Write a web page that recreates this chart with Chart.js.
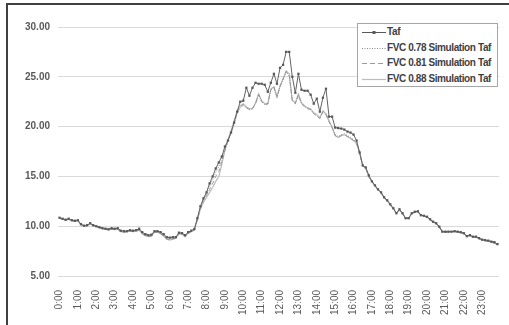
<!DOCTYPE html>
<html>
<head>
<meta charset="utf-8">
<script src="https://cdn.jsdelivr.net/npm/chart.js@4.4.0/dist/chart.umd.min.js"></script>
<style>
  html, body { margin: 0; padding: 0; background: #fff; overflow: hidden; }
  #wrap { position: relative; width: 509px; height: 325px; overflow: hidden; }
  #frame { position: absolute; left: 6px; top: 3px; width: 600px; height: 400px;
           border-left: 2px solid #404040; border-top: 2px solid #404040; }
  #grafico { position: absolute; left: 0; top: 0; }
  #leyenda { position: absolute; left: 357px; top: 23px; width: 139px; height: 62px;
             border: 1px solid #a6a6a6; background: #fff;
             font: bold 10px "Liberation Sans", Arial, sans-serif; color: #404040; }
  .fila { position: absolute; left: 0; height: 14px; line-height: 14px; white-space: nowrap; letter-spacing: -0.4px; }
  .fila svg { position: absolute; left: 4px; top: 0; }
  .fila span { position: absolute; left: 29px; top: 0; }
</style>
</head>
<body>
<div id="wrap">
  <div id="frame"></div>
  <canvas id="grafico" width="509" height="325"></canvas>
  <div id="leyenda">
    <div class="fila" style="top:1px"><svg width="24" height="14"><line x1="0" y1="7.5" x2="24" y2="7.5" stroke="#595959" stroke-width="1"/><rect x="10.5" y="6" width="3" height="3" fill="#595959"/></svg><span>Taf</span></div>
    <div class="fila" style="top:17px"><svg width="24" height="14"><line x1="0" y1="7.5" x2="24" y2="7.5" stroke="#8c8c8c" stroke-width="1" stroke-dasharray="1,1.5"/></svg><span>FVC 0.78 Simulation Taf</span></div>
    <div class="fila" style="top:32px"><svg width="24" height="14"><line x1="0" y1="7.5" x2="24" y2="7.5" stroke="#9a9a9a" stroke-width="1" stroke-dasharray="5,3"/></svg><span>FVC 0.81 Simulation Taf</span></div>
    <div class="fila" style="top:48px"><svg width="24" height="14"><line x1="0" y1="7.5" x2="24" y2="7.5" stroke="#bdbdbd" stroke-width="1.2"/></svg><span>FVC 0.88 Simulation Taf</span></div>
  </div>
</div>
<script>
// horas cada 10 minutos
const horas = [];
for (let h = 0; h < 24; h++) {
    for (let m = 0; m < 60; m += 10) {
        horas.push(h + ":" + (m < 10 ? "0" + m : m));
    }
}

const taf = [
    10.85, 10.75, 10.65, 10.75, 10.6, 10.55, 10.6, 10.2, 10.05, 10.1, 10.3, 10.1,
    10.0, 9.9, 9.8, 9.75, 9.7, 9.8, 9.75, 9.8, 9.55, 9.5, 9.5, 9.6,
    9.55, 9.6, 9.75, 9.4, 9.2, 9.1, 9.15, 9.5, 9.5, 9.4, 9.2, 8.9,
    8.85, 8.9, 8.9, 9.35, 9.3, 9.1, 9.4, 9.55, 9.7, 10.8, 12.0, 12.8,
    13.4, 14.3, 15.0, 15.8, 16.4, 17.0, 18.0, 18.6, 19.4, 20.4, 21.5, 22.5,
    22.6, 23.9, 23.1, 23.9, 24.4, 24.3, 24.3, 24.2, 23.5, 24.4, 25.3, 24.3,
    25.9, 26.2, 27.5, 27.5, 25.0, 23.4, 25.3, 23.7, 23.6, 23.6, 23.2, 22.3,
    22.8, 21.5, 22.9, 23.8, 21.0, 21.0, 19.9, 19.85, 19.8, 19.7, 19.5, 19.4,
    19.2, 18.6, 17.4, 16.1, 15.9, 15.1, 14.5, 14.1, 13.7, 13.4, 12.9, 12.6,
    12.2, 11.8, 11.3, 11.7, 11.3, 10.8, 10.8, 11.3, 11.45, 11.5, 11.1, 11.05,
    10.95, 10.7, 10.45, 10.3, 9.95, 9.45, 9.45, 9.45, 9.45, 9.5, 9.45, 9.4,
    9.3, 9.0, 9.1, 8.95, 8.95, 8.8, 8.65, 8.6, 8.55, 8.45, 8.4, 8.2
];

const fvc078 = [
    10.8, 10.7, 10.6, 10.7, 10.55, 10.5, 10.55, 10.15, 10.0, 10.05, 10.25, 10.05,
    9.95, 9.85, 9.75, 9.7, 9.65, 9.75, 9.7, 9.75, 9.5, 9.45, 9.45, 9.55,
    9.5, 9.55, 9.65, 9.3, 9.1, 9.0, 9.05, 9.45, 9.45, 9.3, 9.05, 8.75,
    8.7, 8.75, 8.85, 9.3, 9.25, 9.0, 9.35, 9.5, 9.65, 10.7, 11.9, 12.7,
    13.3, 14.0, 14.7, 15.4, 16.0, 16.7, 17.7, 18.5, 19.3, 20.2, 21.3, 21.9,
    22.1, 21.9, 21.7, 21.8, 22.3, 23.2, 22.5, 22.2, 22.2, 23.7, 23.9, 22.9,
    24.0, 24.7, 25.5, 25.1, 22.7, 22.3, 23.1, 22.3, 22.0, 21.8, 21.7, 21.3,
    21.1, 20.8, 21.5, 21.2, 20.5, 20.0, 19.2, 19.0, 19.2, 19.3, 19.1, 18.9,
    18.7, 18.4, 17.3, 16.1, 15.85, 15.0, 14.5, 14.05, 13.65, 13.35, 12.85, 12.55,
    12.15, 11.75, 11.3, 11.65, 11.25, 10.8, 10.8, 11.25, 11.4, 11.45, 11.1, 11.0,
    10.9, 10.65, 10.4, 10.25, 9.9, 9.45, 9.4, 9.45, 9.45, 9.45, 9.4, 9.35,
    9.25, 9.0, 9.05, 8.9, 8.9, 8.75, 8.6, 8.55, 8.5, 8.4, 8.3, 8.15
];

const fvc081 = [
    10.8, 10.7, 10.6, 10.7, 10.55, 10.5, 10.55, 10.15, 10.0, 10.05, 10.25, 10.05,
    9.95, 9.85, 9.75, 9.7, 9.6, 9.7, 9.65, 9.7, 9.45, 9.4, 9.45, 9.5,
    9.45, 9.5, 9.6, 9.25, 9.05, 8.95, 9.0, 9.4, 9.4, 9.25, 9.0, 8.7,
    8.65, 8.7, 8.8, 9.25, 9.2, 8.95, 9.3, 9.45, 9.6, 10.65, 11.8, 12.6,
    13.1, 13.7, 14.3, 15.0, 15.5, 16.5, 17.6, 18.6, 19.4, 20.4, 21.4, 22.0,
    22.2, 21.9, 21.7, 21.8, 22.3, 23.2, 22.5, 22.2, 22.3, 23.7, 24.0, 23.0,
    24.0, 24.8, 25.5, 25.2, 22.6, 22.3, 23.2, 22.3, 22.0, 21.8, 21.7, 21.3,
    21.1, 20.8, 21.5, 21.2, 20.5, 19.9, 19.1, 18.9, 19.1, 19.2, 19.0, 18.8,
    18.6, 18.3, 17.3, 16.1, 15.8, 14.95, 14.5, 14.05, 13.65, 13.35, 12.85, 12.55,
    12.15, 11.75, 11.3, 11.65, 11.25, 10.8, 10.8, 11.25, 11.4, 11.45, 11.1, 11.0,
    10.9, 10.65, 10.4, 10.25, 9.9, 9.45, 9.4, 9.45, 9.45, 9.45, 9.4, 9.35,
    9.25, 9.0, 9.05, 8.9, 8.9, 8.75, 8.6, 8.55, 8.5, 8.4, 8.3, 8.15
];

const fvc088 = [
    10.8, 10.7, 10.6, 10.7, 10.55, 10.5, 10.55, 10.15, 10.0, 10.05, 10.25, 10.05,
    9.95, 9.85, 9.75, 9.7, 9.6, 9.7, 9.65, 9.7, 9.45, 9.4, 9.45, 9.5,
    9.45, 9.5, 9.6, 9.25, 9.05, 8.95, 9.0, 9.4, 9.4, 9.25, 9.0, 8.7,
    8.6, 8.7, 8.8, 9.25, 9.2, 8.95, 9.3, 9.45, 9.6, 10.6, 11.7, 12.4,
    12.9, 13.4, 13.9, 14.5, 15.0, 16.2, 17.6, 18.7, 19.6, 20.6, 21.6, 22.1,
    22.3, 22.0, 21.8, 21.8, 22.4, 23.3, 22.6, 22.3, 22.3, 23.8, 24.0, 23.0,
    24.1, 24.8, 25.6, 25.3, 22.6, 22.4, 23.3, 22.4, 22.1, 21.9, 21.8, 21.4,
    21.2, 20.9, 21.6, 21.3, 20.6, 19.9, 19.1, 18.9, 19.1, 19.2, 19.0, 18.8,
    18.6, 18.3, 17.3, 16.1, 15.8, 14.95, 14.5, 14.05, 13.65, 13.35, 12.85, 12.55,
    12.15, 11.75, 11.3, 11.65, 11.25, 10.8, 10.8, 11.25, 11.4, 11.45, 11.1, 11.0,
    10.9, 10.65, 10.4, 10.25, 9.9, 9.45, 9.4, 9.45, 9.45, 9.45, 9.4, 9.35,
    9.25, 9.0, 9.05, 8.9, 8.9, 8.75, 8.6, 8.55, 8.5, 8.4, 8.3, 8.15
];

const ctx = document.getElementById("grafico").getContext("2d");
const grafico = new Chart(ctx, {
    type: 'line',
    data: {
        labels: horas,
        datasets: [
            {
                label: "Taf",
                data: taf,
                borderColor: "#636363",
                borderWidth: 1,
                pointStyle: 'rect',
                pointRadius: 1.6,
                pointBackgroundColor: "#595959",
                pointBorderWidth: 0
            },
            {
                label: "FVC 0.78 Simulation Taf",
                data: fvc078,
                borderColor: "#8c8c8c",
                borderWidth: 1,
                borderDash: [1, 1.5],
                pointRadius: 0
            },
            {
                label: "FVC 0.81 Simulation Taf",
                data: fvc081,
                borderColor: "#9a9a9a",
                borderWidth: 1,
                borderDash: [4, 3],
                pointRadius: 0
            },
            {
                label: "FVC 0.88 Simulation Taf",
                data: fvc088,
                borderColor: "#bdbdbd",
                borderWidth: 1.2,
                pointRadius: 0
            }
        ]
    },
    options: {
        responsive: false,
        animation: false,
        devicePixelRatio: 1,
        layout: { padding: { left: 0, right: 10, top: 27, bottom: 0 } },
        plugins: {
            legend: { display: false },
            tooltip: { enabled: false }
        },
        scales: {
            x: {
                offset: true,
                grid: { display: false },
                border: { display: false },
                ticks: {
                    autoSkip: false,
                    minRotation: 90,
                    maxRotation: 90,
                    padding: 6,
                    color: "#595959",
                    font: { family: "Liberation Sans", size: 10 },
                    callback: (v, i) => (i % 6 === 0 ? horas[i] : null)
                },
                afterFit: s => { s.height = 49; }
            },
            y: {
                min: 5,
                max: 30,
                border: { display: false },
                grid: { color: "#d9d9d9", drawTicks: false },
                ticks: {
                    stepSize: 5,
                    padding: 8,
                    color: "#595959",
                    font: { family: "Liberation Sans", size: 10, weight: 'bold' },
                    callback: v => v.toFixed(2)
                },
                afterFit: s => { s.width = 58; }
            }
        }
    }
});
</script>
</body>
</html>
